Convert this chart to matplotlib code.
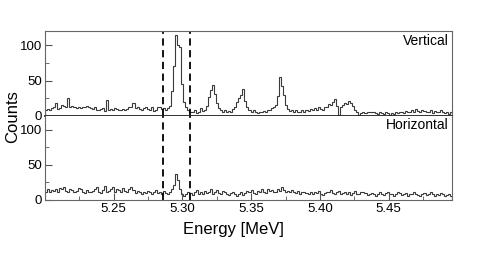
import numpy as np
import matplotlib
matplotlib.use('Agg')
import matplotlib.pyplot as plt
from matplotlib.ticker import MultipleLocator

plt.rcParams['font.family'] = ['Liberation Sans', 'DejaVu Sans']

# histogram range (MeV) and number of bins
E_MIN, E_MAX, N_BINS = 5.2, 5.496, 200

# gate used for the peak (dashed lines)
gate = [5.2855, 5.3055]

# counts per bin
vertical = [
    9, 10, 9, 11, 12, 18, 10, 11, 16, 14, 12, 26, 13, 14, 12, 11, 12, 11, 12, 13,
    14, 12, 11, 10, 12, 9, 8, 10, 11, 7, 22, 9, 10, 8, 11, 10, 9, 8, 10, 9,
    10, 12, 13, 19, 11, 12, 10, 9, 11, 13, 10, 8, 12, 7, 9, 13, 12, 10, 11, 9,
    11, 14, 35, 70, 115, 100, 98, 45, 20, 12, 9, 6, 5, 8, 4, 6, 11, 7, 9, 14,
    27, 36, 44, 31, 18, 11, 8, 6, 9, 5, 7, 6, 10, 13, 20, 26, 30, 38, 21, 12,
    8, 6, 9, 5, 4, 6, 5, 7, 6, 8, 9, 11, 13, 15, 28, 55, 42, 30, 16, 10,
    7, 8, 5, 9, 6, 5, 8, 6, 9, 7, 10, 8, 11, 9, 12, 10, 9, 13, 12, 17,
    16, 20, 24, 14, 1, 12, 15, 18, 17, 21, 19, 14, 9, 5, 2, 4, 5, 4, 6, 5,
    5, 6, 4, 3, 5, 4, 3, 5, 4, 2, 4, 3, 5, 4, 6, 5, 4, 7, 6, 5,
    8, 6, 10, 7, 6, 9, 7, 5, 6, 8, 4, 7, 5, 6, 9, 5, 4, 6, 3, 5,
]
horizontal = [
    11, 15, 12, 14, 13, 16, 12, 17, 15, 18, 13, 12, 16, 14, 11, 13, 17, 15, 12, 10,
    14, 12, 11, 13, 16, 18, 12, 10, 14, 20, 11, 13, 15, 19, 12, 16, 14, 11, 17, 13,
    12, 15, 18, 14, 10, 13, 11, 9, 12, 10, 13, 11, 9, 12, 14, 10, 11, 8, 13, 10,
    9, 12, 16, 22, 37, 29, 15, 9, 6, 8, 12, 10, 7, 11, 14, 9, 12, 8, 13, 10,
    11, 15, 9, 12, 14, 10, 8, 13, 11, 9, 7, 10, 12, 8, 6, 9, 11, 7, 10, 13,
    12, 14, 10, 9, 13, 11, 15, 12, 10, 16, 13, 14, 11, 12, 15, 13, 19, 14, 12, 13,
    11, 14, 12, 10, 13, 9, 11, 12, 10, 8, 11, 9, 12, 10, 13, 9, 7, 10, 12, 11,
    14, 10, 9, 11, 13, 8, 10, 12, 9, 11, 7, 10, 13, 9, 8, 11, 12, 10, 7, 9,
    10, 8, 6, 9, 11, 8, 7, 10, 12, 9, 8, 6, 9, 11, 10, 7, 8, 10, 6, 9,
    8, 11, 9, 7, 5, 8, 10, 7, 9, 12, 8, 6, 9, 7, 10, 8, 5, 7, 9, 6,
]
panel_names = ['Vertical', 'Horizontal']
x_ticks = [5.25, 5.30, 5.35, 5.40, 5.45]
y_ticks = [0, 50, 100]

edges = np.linspace(E_MIN, E_MAX, N_BINS + 1)

fig = plt.figure(figsize=(4.88, 2.56), dpi=100)
ax_top = fig.add_axes([0.0922, 0.547, 0.834, 0.332])
ax_bot = fig.add_axes([0.0922, 0.219, 0.834, 0.328], sharex=ax_top)

for ax, counts, name in zip([ax_top, ax_bot], [vertical, horizontal], panel_names):
    ax.stairs(counts, edges, color='#3a3a3a', linewidth=0.8)
    for g in gate:
        ax.axvline(g, color='black', linestyle=(0, (4, 2.5)), linewidth=1.3)
    ax.set_xlim(E_MIN, E_MAX)
    ax.set_ylim(0, 120)
    ax.set_yticks(y_ticks)
    ax.yaxis.set_minor_locator(MultipleLocator(25))
    ax.xaxis.set_minor_locator(MultipleLocator(0.025))
    ax.tick_params(which='both', direction='in', labelsize=9.5, color='#555555', pad=2)
    ax.tick_params(which='major', length=5)
    ax.tick_params(which='minor', length=3)
    for s in ax.spines.values():
        s.set_color('#666666')
        s.set_linewidth(0.8)
    ax.text(0.992, 0.97, name, transform=ax.transAxes, ha='right', va='top', fontsize=10)

ax_top.tick_params(axis='x', which='both', bottom=False, labelbottom=False)
ax_top.spines['bottom'].set_color('#222222')
ax_top.spines['bottom'].set_linewidth(1.3)
ax_bot.spines['top'].set_visible(False)
ax_bot.set_xticks(x_ticks)
ax_bot.set_xticklabels([f'{t:.2f}' for t in x_ticks])

fig.text(0.025, 0.545, 'Counts', rotation=90, ha='center', va='center', fontsize=12)
fig.text(0.478, 0.105, 'Energy [MeV]', ha='center', va='center', fontsize=12)

fig.savefig('out.png', dpi=100)
